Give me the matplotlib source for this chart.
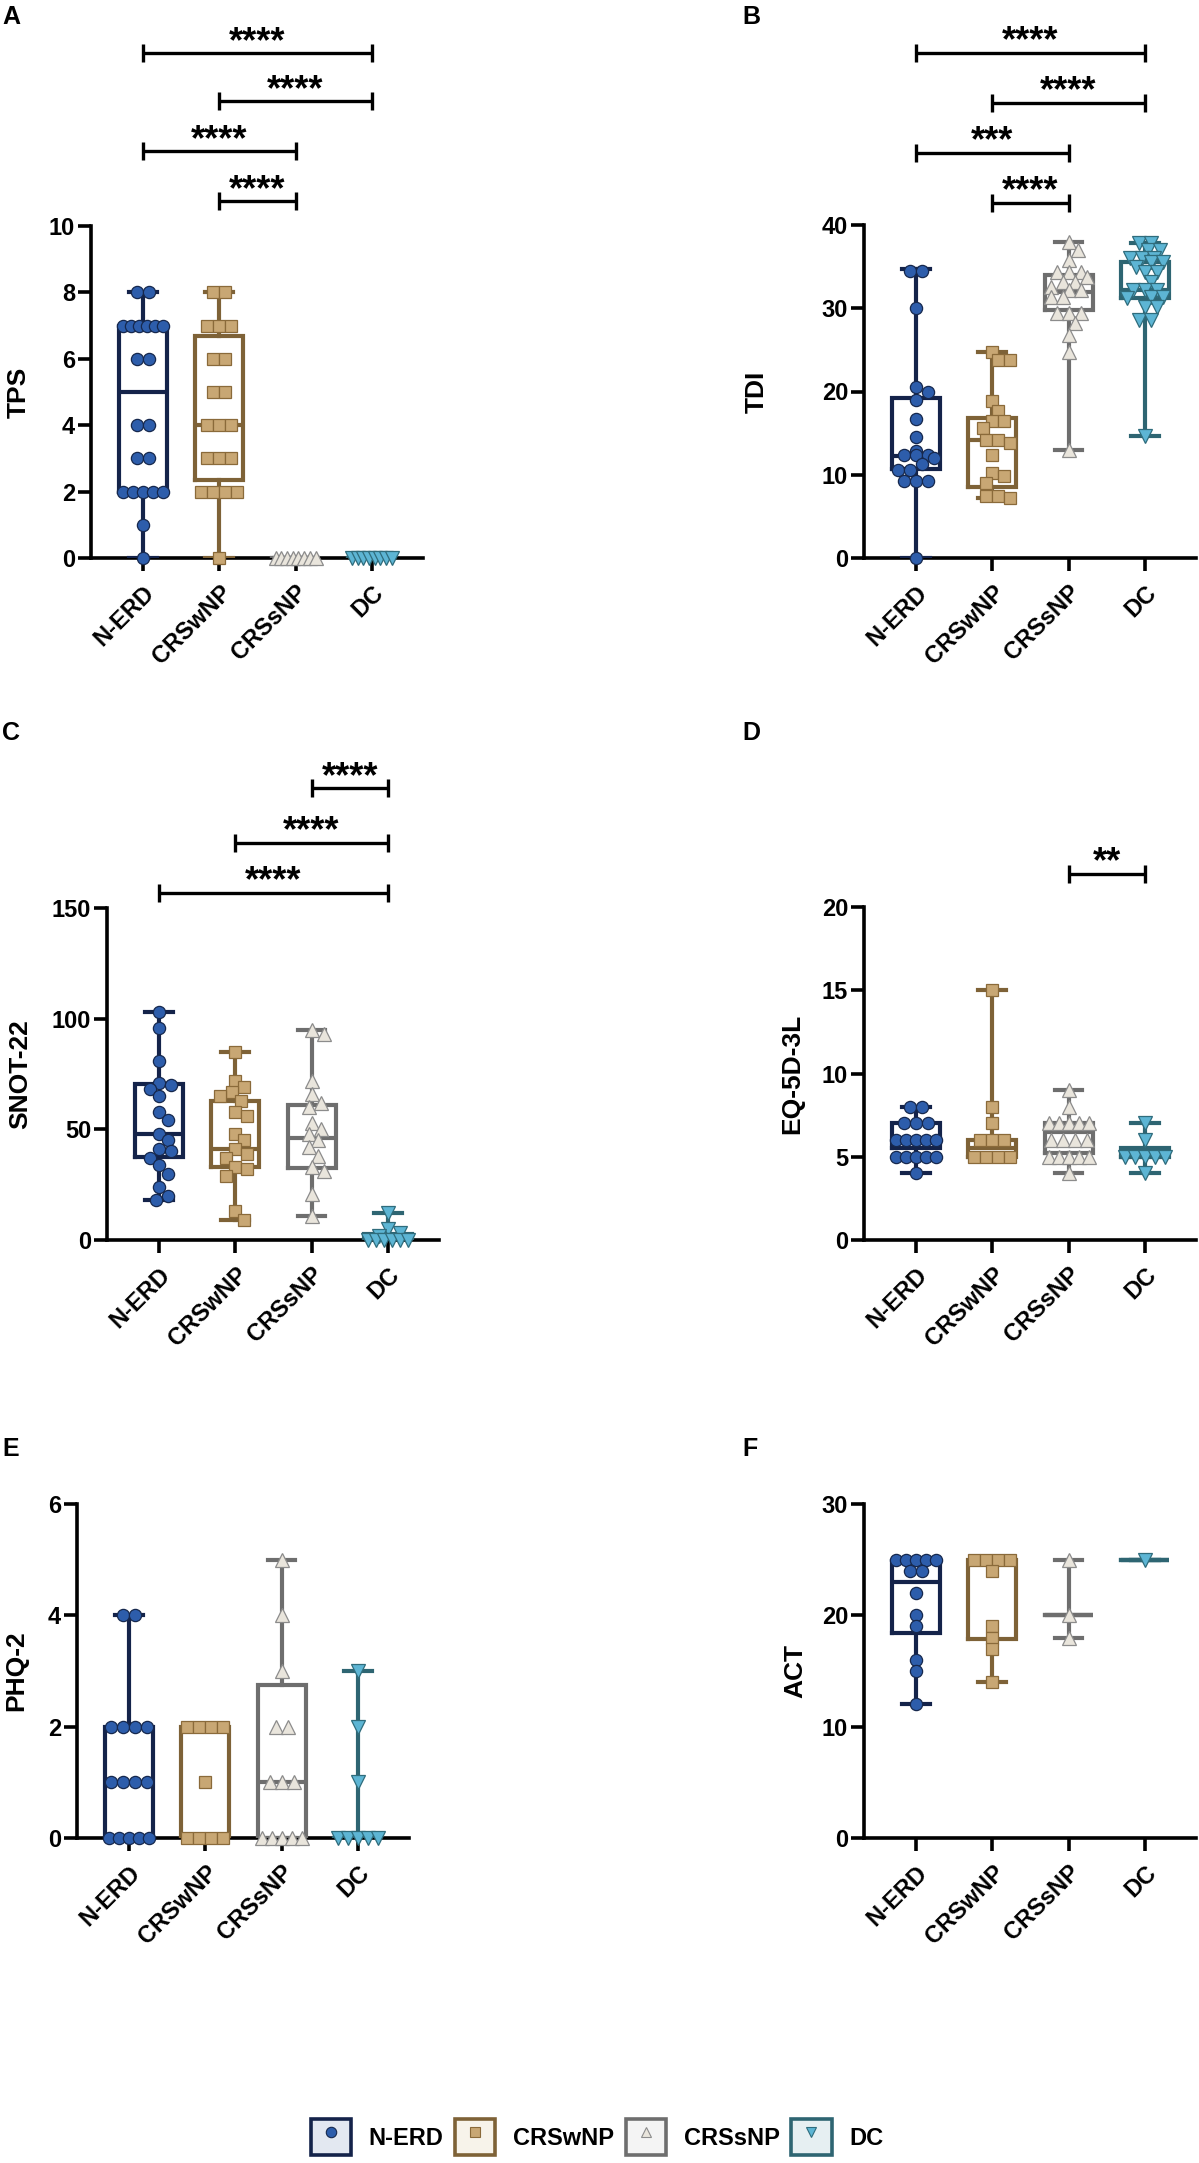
import numpy as np
import matplotlib
matplotlib.use("Agg")
import matplotlib.pyplot as plt
from matplotlib.lines import Line2D
from matplotlib.patches import Patch
from matplotlib.legend_handler import HandlerTuple

plt.rcParams['font.family'] = ['Liberation Sans', 'DejaVu Sans']
plt.rcParams['font.weight'] = 'bold'

# ---------------- data ----------------
GROUPS = ['N-ERD', 'CRSwNP', 'CRSsNP', 'DC']

TPS_NERD = [8, 8, 7, 7, 7, 7, 7, 7, 6, 6, 4, 4, 3, 3, 2, 2, 2, 2, 2, 1, 0]
TPS_CRSWNP = [8, 8, 7, 7, 7, 6, 6, 5, 5, 4, 4, 4, 3, 3, 3, 2, 2, 2, 2, 0]
TPS_CRSSNP = [0, 0, 0, 0, 0, 0, 0, 0]
TPS_DC = [0, 0, 0, 0, 0, 0, 0, 0]
TPS_BOX = [[0, 2, 5, 7, 8], [0, 2.35, 4, 6.7, 8], [0, 0, 0, 0, 0], [0, 0, 0, 0, 0]]
TPS_SIG = [(0, 3, '****', 15.2), (1, 3, '****', 13.75), (0, 2, '****', 12.25), (1, 2, '****', 10.75)]

TDI_NERD = [34.5, 34.5, 30, 20.5, 20, 19, 16.7, 14.5, 12.8, 12.4, 12.4, 12.4, 12, 11.3,
            10.6, 10.6, 9.2, 9.2, 9.2, 0]
TDI_CRSWNP = [24.8, 23.8, 23.8, 18.8, 17.6, 16.4, 16.4, 15.6, 14.2, 14.2, 13.8, 12.4,
              10.2, 9.8, 9, 7.4, 7.4, 7.2]
TDI_CRSSNP = [38, 37, 35.8, 34.4, 34.4, 34.4, 33.8, 33.2, 33.2, 32.6, 32.2, 32.2, 31.3,
              31.3, 29.4, 29.4, 29.4, 28.2, 26.8, 24.8, 13]
TDI_DC = [37.8, 37.8, 37, 37, 36, 36, 36, 35.6, 35.6, 35, 34.4, 34.4, 33.2, 32.2, 32.2,
          32.2, 31.4, 31.4, 31.2, 30.2, 30.2, 28.6, 28.6, 14.6]
TDI_BOX = [[0, 10.65, 12.2, 19.2, 34.7], [7.2, 8.5, 14.2, 16.8, 24.8],
           [13, 29.8, 32, 34, 38], [14.6, 31.2, 32.2, 35.6, 37.8]]
TDI_SIG = [(0, 3, '****', 60.7), (1, 3, '****', 54.7), (0, 2, '***', 48.7), (1, 2, '****', 42.7)]

SNOT_NERD = [103, 96, 81, 71, 70, 68, 65, 58, 54, 48, 45, 41, 40, 37, 34, 30, 24, 20, 18]
SNOT_CRSWNP = [85, 72, 69, 67, 65, 63, 58, 56, 48, 45, 41, 39, 37, 33, 32, 29, 13, 9]
SNOT_CRSSNP = [95, 93, 72, 66, 62, 60, 53, 50, 48, 45, 42, 38, 33, 31, 21, 11]
SNOT_DC = [12, 5, 3, 2, 0, 0, 0, 0, 0, 0]
SNOT_BOX = [[18, 37.3, 47.7, 70.5, 103], [9, 33, 41, 63, 85],
            [11, 32.4, 46, 61, 95], [0, 0, 0, 2.5, 12]]
SNOT_SIG = [(2, 3, '****', 204), (1, 3, '****', 179.5), (0, 3, '****', 157)]

EQ_NERD = [8, 8, 7, 7, 7, 6, 6, 6, 6, 6, 5, 5, 5, 5, 5, 4]
EQ_CRSWNP = [15, 8, 7, 6, 6, 6, 5, 5, 5, 5]
EQ_CRSSNP = [9, 8, 7, 7, 7, 7, 7, 6, 6, 6, 6, 5, 5, 5, 5, 5, 4]
EQ_DC = [7, 6, 5, 5, 5, 5, 5, 4]
EQ_BOX = [[4, 5.5, 6, 7, 8], [5, 5, 5.5, 6, 15], [4, 5.2, 6.5, 7, 9], [4, 5, 5, 5.5, 7]]
EQ_SIG = [(2, 3, '**', 22)]

PHQ_NERD = [4, 4, 2, 2, 2, 2, 1, 1, 1, 1, 0, 0, 0, 0, 0]
PHQ_CRSWNP = [2, 2, 2, 2, 1, 0, 0, 0, 0]
PHQ_CRSSNP = [5, 4, 3, 2, 2, 1, 1, 1, 0, 0, 0, 0, 0]
PHQ_DC = [3, 2, 1, 0, 0, 0, 0, 0]
PHQ_BOX = [[0, 0, 1, 2, 4], [0, 0, 0, 2, 2], [0, 0, 1, 2.75, 5], [0, 0, 0, 0, 3]]
PHQ_SIG = []

ACT_NERD = [25, 25, 25, 25, 25, 24, 24, 22, 20, 19, 16, 15, 12]
ACT_CRSWNP = [25, 25, 25, 25, 24, 19, 18, 17, 14]
ACT_CRSSNP = [25, 20, 18]
ACT_DC = [25]
ACT_BOX = [[12, 18.4, 23, 24.9, 25], [14, 17.9, 25, 25, 25], [18, 20, 20, 20, 25], [25, 25, 25, 25, 25]]
ACT_SIG = []

# ---------------- style ----------------
FACE = ['#2D5DAB', '#C8A774', '#E9E5DC', '#5DB5D4']
EDGE = ['#16284D', '#8A6A3A', '#8C8C8C', '#2F6C7C']
BOXC = ['#14234A', '#7E6237', '#6E6E6E', '#2E6572']
LEGFILL = ['#E3E8F1', '#F7F3EA', '#F4F4F4', '#E6EFF2']
MARK = ['o', 's', '^', 'v']
MS = [8.8, 9.2, 10.2, 10.2]

W, H = 1199, 2163
fig = plt.figure(figsize=(W / 100, H / 100), dpi=100)
XL = (0.32, 4.67)
POS = [1, 2, 3, 4]


def add_axes(left, top, width, height):
    return fig.add_axes([left / W, 1 - (top + height) / H, width / W, height / H])


def swarm(vals, ypx, d, maxhalf):
    vals = np.asarray(vals, float)
    offs = np.zeros(len(vals))
    placed = []
    for u in sorted(set(vals.tolist()), reverse=True):
        idx = np.where(vals == u)[0]
        n = len(idx)
        step = d if n == 1 else min(d, 2 * maxhalf / (n - 1))
        row = (np.arange(n) - (n - 1) / 2) * step
        y = u * ypx
        lim = maxhalf - np.abs(row).max()
        shifts = [0.0]
        k = 1
        while k * d / 4 <= lim + 1e-9:
            shifts += [k * d / 4, -k * d / 4]
            k += 1
        best = None
        for s in shifts:
            pen = 0.0
            for (px, py) in placed:
                dist = np.hypot(row + s - px, y - py)
                pen += np.clip(0.9 * d - dist, 0, None).sum()
            if best is None or pen < best[0] - 1e-9:
                best = (pen, s)
            if pen == 0:
                break
        s = best[1]
        offs[idx] = row + s
        placed += [(r + s, y) for r in row]
    return offs


def panel(geom, series, boxes, ylim, yticks, ylabel, ylabel_x, letter, letter_xy, sigs):
    left, top, w, h = geom
    ax = add_axes(left, top, w, h)
    ypx = h / (ylim[1] - ylim[0])
    xpx = w / (XL[1] - XL[0])
    for i, (vals, b) in enumerate(zip(series, boxes)):
        st = [dict(whislo=b[0], q1=b[1], med=b[2], q3=b[3], whishi=b[4])]
        lp = dict(color=BOXC[i], linewidth=3.0, solid_joinstyle='miter')
        ax.bxp(st, positions=[POS[i]], widths=0.63, capwidths=0.36, showfliers=False,
               boxprops=lp, whiskerprops=lp, capprops=lp, medianprops=lp,
               manage_ticks=False, zorder=3)
        offs = swarm(vals, ypx, 12.0, 20.0)
        ax.plot(POS[i] + offs / xpx, vals, ls='none', marker=MARK[i], ms=MS[i],
                mfc=FACE[i], mec=EDGE[i], mew=0.9, zorder=5, clip_on=False)
    ax.set_xlim(*XL)
    ax.set_ylim(*ylim)
    ax.set_yticks(yticks)
    ax.set_yticklabels([str(t) for t in yticks], fontsize=17, fontweight='bold')
    ax.set_xticks(POS)
    ax.set_xticklabels(GROUPS, fontsize=17, fontweight='bold', rotation=45,
                       ha='right', va='top', rotation_mode='anchor')
    for s in ['top', 'right']:
        ax.spines[s].set_visible(False)
    for s in ['left', 'bottom']:
        ax.spines[s].set_linewidth(2.6)
        ax.spines[s].set_color('black')
    ax.tick_params(axis='both', length=9.5, width=2.6, color='black')
    ax.tick_params(axis='x', pad=7)
    ax.tick_params(axis='y', pad=2)
    fig.text(ylabel_x / W, 1 - (top + h / 2) / H, ylabel, rotation=90, ha='center',
             va='center', fontsize=19, fontweight='bold')
    fig.text(letter_xy[0] / W, 1 - letter_xy[1] / H, letter, ha='left', va='center',
             fontsize=18, fontweight='bold')
    for (a, bb, lab, yv) in sigs:
        ax.plot([POS[a], POS[bb]], [yv, yv], color='black', lw=2.4, marker='|', ms=13,
                mew=2.4, clip_on=False, solid_capstyle='butt', zorder=6)
        ax.annotate(lab, xy=((POS[a] + POS[bb]) / 2, yv), xytext=(0, 1.0),
                    textcoords='offset points', ha='center', va='baseline', fontsize=26,
                    fontweight='bold', annotation_clip=False)
    return ax


panel((91, 226, 332, 332), [TPS_NERD, TPS_CRSWNP, TPS_CRSSNP, TPS_DC], TPS_BOX, (0, 10),
      [0, 2, 4, 6, 8, 10], 'TPS', 19, 'A', (2, 17), TPS_SIG)
panel((864, 225, 332, 333), [TDI_NERD, TDI_CRSWNP, TDI_CRSSNP, TDI_DC], TDI_BOX, (0, 40),
      [0, 10, 20, 30, 40], 'TDI', 757, 'B', (742, 17), TDI_SIG)
panel((107, 908, 332, 332), [SNOT_NERD, SNOT_CRSWNP, SNOT_CRSSNP, SNOT_DC], SNOT_BOX, (0, 150),
      [0, 50, 100, 150], 'SNOT-22', 20, 'C', (2, 733), SNOT_SIG)
panel((864, 907, 332, 333), [EQ_NERD, EQ_CRSWNP, EQ_CRSSNP, EQ_DC], EQ_BOX, (0, 20),
      [0, 5, 10, 15, 20], 'EQ-5D-3L', 792, 'D', (742, 733), EQ_SIG)
panel((77, 1504, 332, 334), [PHQ_NERD, PHQ_CRSWNP, PHQ_CRSSNP, PHQ_DC], PHQ_BOX, (0, 6),
      [0, 2, 4, 6], 'PHQ-2', 16, 'E', (2, 1449), PHQ_SIG)
panel((864, 1504, 332, 334), [ACT_NERD, ACT_CRSWNP, ACT_CRSSNP, ACT_DC], ACT_BOX, (0, 30),
      [0, 10, 20, 30], 'ACT', 795, 'F', (742, 1449), ACT_SIG)

# legend
handles = []
for i in range(4):
    handles.append((Patch(facecolor=LEGFILL[i], edgecolor=BOXC[i], linewidth=2.6),
                    Line2D([], [], ls='none', marker=MARK[i], ms=7.5, mfc=FACE[i],
                           mec=EDGE[i], mew=0.8)))
fig.legend(handles, GROUPS, handler_map={tuple: HandlerTuple(ndivide=1, pad=0.0)},
           loc='center', bbox_to_anchor=(597 / W, 1 - 2137 / H), ncol=4, frameon=False,
           numpoints=1, handlelength=1.7, handleheight=1.95, handletextpad=0.75,
           columnspacing=0.5, prop=dict(size=17, weight='bold'))

fig.savefig('out.png', dpi=100)
